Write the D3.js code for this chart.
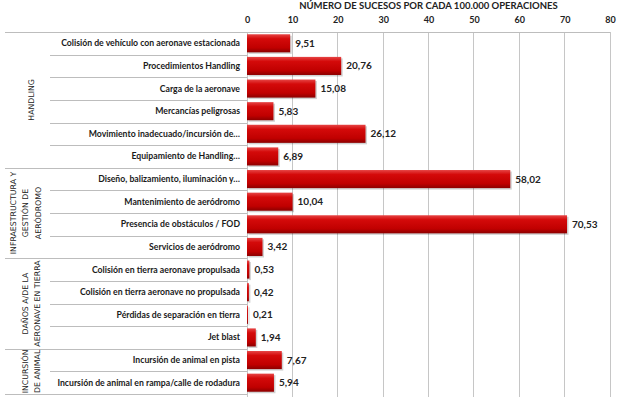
<!DOCTYPE html>
<html><head><meta charset="utf-8">
<script src="https://cdn.jsdelivr.net/npm/d3@7"></script>
<style>
html,body{margin:0;padding:0;background:#fff;}
svg{display:block;}
</style></head>
<body>
<svg id="chart" width="623" height="399"></svg>
<script>
const categories = [
  "Colisión de vehículo con aeronave estacionada",
  "Procedimientos Handling",
  "Carga de la aeronave",
  "Mercancías peligrosas",
  "Movimiento inadecuado/incursión de…",
  "Equipamiento de Handling…",
  "Diseño, balizamiento, iluminación y…",
  "Mantenimiento de aeródromo",
  "Presencia de obstáculos / FOD",
  "Servicios de aeródromo",
  "Colisión en tierra aeronave propulsada",
  "Colisión en tierra aeronave no propulsada",
  "Pérdidas de separación en tierra",
  "Jet blast",
  "Incursión de animal en pista",
  "Incursión de animal en rampa/calle de rodadura"
];
const values = [9.51, 20.76, 15.08, 5.83, 26.12, 6.89, 58.02, 10.04, 70.53, 3.42, 0.53, 0.42, 0.21, 1.94, 7.67, 5.94];
const groupNames = [
  ["HANDLING"],
  ["INFRAESTRUCTURA Y", "GESTIÓN DE", "AERÓDROMO"],
  ["DAÑOS A/DE LA", "AERONAVE EN TIERRA"],
  ["INCURSIÓN", "DE ANIMAL"]
];
const groupSizes = [6, 4, 4, 2];
const xTicks = [0, 10, 20, 30, 40, 50, 60, 70, 80];
const title = "NÚMERO DE SUCESOS POR CADA 100.000 OPERACIONES";

const svg = d3.select("#chart");
const x = d3.scaleLinear().domain([0, 80]).range([247, 610]);
const y = d3.scaleBand().domain(d3.range(categories.length)).range([32, 394]).paddingInner(0.2).paddingOuter(0.1);
const rowH = (394 - 32) / categories.length;

const defs = svg.append("defs");
const grad = defs.append("linearGradient").attr("id", "barGrad").attr("x1", 0).attr("y1", 0).attr("x2", 0).attr("y2", 1);
grad.append("stop").attr("offset", "0%").attr("stop-color", "#e64545");
grad.append("stop").attr("offset", "25%").attr("stop-color", "#d40a0a");
grad.append("stop").attr("offset", "75%").attr("stop-color", "#c00000");
grad.append("stop").attr("offset", "100%").attr("stop-color", "#8c0000");

// gridlines
svg.append("g").selectAll("line").data(xTicks).join("line")
  .attr("x1", d => x(d)).attr("x2", d => x(d))
  .attr("y1", 32).attr("y2", 397)
  .attr("stroke", "#c6c6c6").attr("stroke-width", 1).attr("shape-rendering", "crispEdges");

// top axis labels
const axis = d3.axisTop(x).tickValues(xTicks).tickSize(0).tickPadding(0);
const ag = svg.append("g").attr("transform", "translate(0,23)").call(axis);
ag.select(".domain").remove();
ag.selectAll("text").attr("font-family", "Lato, sans-serif").attr("font-weight", "bold")
  .attr("font-size", "9px").attr("fill", "#222");

svg.append("text").attr("x", x(40)).attr("y", 9).attr("text-anchor", "middle")
  .attr("font-family", "Lato, sans-serif").attr("font-weight", "bold").attr("font-size", "9.5px")
  .attr("fill", "#222").text(title);

// horizontal separators in label area
const lines = svg.append("g").attr("shape-rendering", "crispEdges");
lines.append("line").attr("x1", 5).attr("x2", 610).attr("y1", 32).attr("y2", 32).attr("stroke", "#bdbdbd");
let cum = 0;
const groupStarts = groupSizes.map(s => { const st = cum; cum += s; return st; });
for (let i = 1; i <= categories.length; i++) {
  const isGroup = groupStarts.includes(i) || i === categories.length;
  const yy = Math.round(32 + i * rowH);
  lines.append("line").attr("x1", isGroup ? 5 : 50).attr("x2", 247)
    .attr("y1", yy).attr("y2", yy).attr("stroke", "#bdbdbd");
}

// category labels
svg.append("g").selectAll("text").data(categories).join("text")
  .attr("x", 240).attr("y", (d, i) => y(i) + y.bandwidth() / 2)
  .attr("dy", "0.35em").attr("text-anchor", "end")
  .attr("font-family", "Lato, sans-serif").attr("font-weight", "bold").attr("font-size", "8.7px")
  .attr("fill", "#1a1a1a").text(d => d);

// group labels
groupNames.forEach((lns, gi) => {
  const y0 = 32 + groupStarts[gi] * rowH;
  const y1 = y0 + groupSizes[gi] * rowH;
  const cy = (y0 + y1) / 2;
  const lh = 12.2;
  const cx = 31 - Math.max(0, lns.length * lh - 26) / 2;
  const g = svg.append("g").attr("transform", `translate(${cx},${cy}) rotate(-90)`);
  lns.forEach((t, li) => {
    g.append("text").attr("x", 0).attr("y", (li - (lns.length - 1) / 2) * lh)
      .attr("dy", "0.35em").attr("text-anchor", "middle")
      .attr("font-family", "'DejaVu Sans', sans-serif").attr("font-size", "7.8px")
      .attr("fill", "#222").text(t);
  });
});

// bars shadow
svg.append("g").selectAll("rect").data(values).join("rect")
  .attr("x", x(0) + 1.5).attr("y", (d, i) => y(i) + 1.5)
  .attr("width", d => x(d) - x(0)).attr("height", y.bandwidth())
  .attr("fill", "#000").attr("opacity", 0.18);

svg.append("g").selectAll("rect").data(values).join("rect")
  .attr("x", x(0)).attr("y", (d, i) => y(i))
  .attr("width", d => x(d) - x(0)).attr("height", y.bandwidth())
  .attr("fill", "url(#barGrad)");

const fmt = d => d3.format(".2f")(d).replace(".", ",");
svg.append("g").selectAll("text").data(values).join("text")
  .attr("x", d => x(d) + 5).attr("y", (d, i) => y(i) + y.bandwidth() / 2)
  .attr("dy", "0.35em")
  .attr("font-family", "Lato, sans-serif").attr("font-weight", "bold").attr("font-size", "10px")
  .attr("fill", "#222").text(fmt);
</script>
</body></html>
